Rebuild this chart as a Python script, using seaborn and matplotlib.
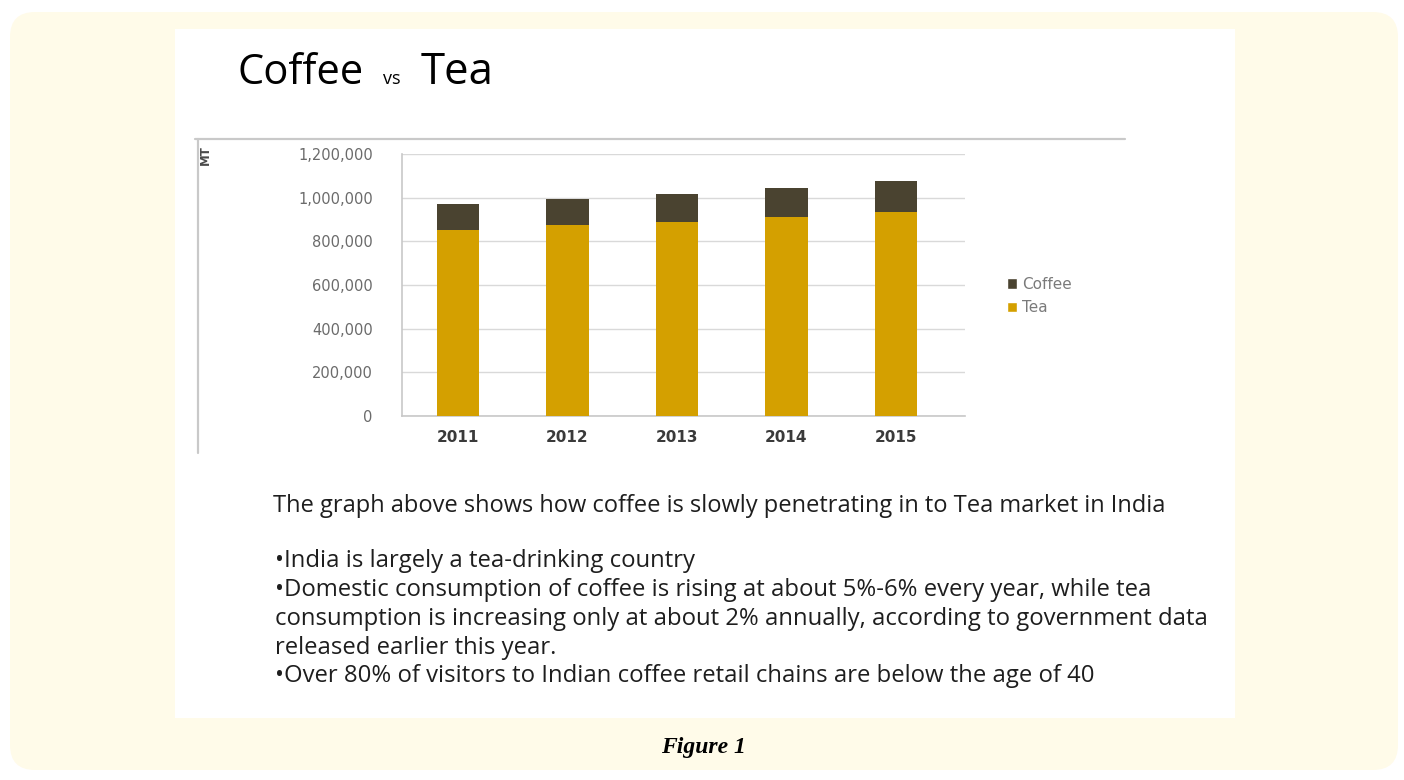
import matplotlib
matplotlib.use("Agg")
import matplotlib.pyplot as plt
from matplotlib.patches import FancyBboxPatch, Rectangle, Patch
from matplotlib.lines import Line2D
import seaborn as sns
import pandas as pd

# Annual consumption in India (metric tonnes)
years = ["2011", "2012", "2013", "2014", "2015"]
tea = [854000, 874000, 889000, 912000, 934000]
coffee = [115000, 121000, 126000, 131000, 141000]
ytick_values = [0, 200000, 400000, 600000, 800000, 1000000, 1200000]

headline = "The graph above shows how coffee is slowly penetrating in to Tea market in India"
bullets = [
    "\u2022India is largely a tea-drinking country",
    "\u2022Domestic consumption of coffee is rising at about 5%-6% every year, while tea",
    "consumption is increasing only at about 2% annually, according to government data",
    "released earlier this year.",
    "\u2022Over 80% of visitors to Indian coffee retail chains are below the age of 40",
]
caption = "Figure 1"

TEA_COLOR = "#D4A000"
COFFEE_COLOR = "#4A4330"
CREAM = "#FFFBE9"
GRID = "#D9D9D9"
TICK_TEXT = "#6B6B6B"

sns.set_theme(style="white")
plt.rcParams["font.family"] = ["DejaVu Sans"]

W, H = 1404, 780
fig = plt.figure(figsize=(W / 100, H / 100), dpi=100)
fig.patch.set_facecolor("white")
inch = fig.dpi_scale_trans


def fx(px):
    return px / W


def fy(py):
    return 1 - py / H


# cream card with rounded corners, white slide on top
fig.add_artist(FancyBboxPatch((0.10 + 0.25, 0.10 + 0.25), 13.88 - 0.5, 7.58 - 0.5,
                              boxstyle="round,pad=0.25", transform=inch,
                              facecolor=CREAM, edgecolor="none", zorder=-3))
fig.add_artist(Rectangle((1.75, 0.62), 10.60, 6.89, transform=inch,
                         facecolor="white", edgecolor="none", zorder=-2))

# frame lines around the embedded chart
fig.add_artist(Line2D([1.95, 11.25], [6.41, 6.41], transform=inch,
                      color="#C9C9C9", lw=1.6, zorder=-1))
fig.add_artist(Line2D([1.98, 1.98], [6.41, 3.27], transform=inch,
                      color="#C9C9C9", lw=1.6, zorder=-1))

# chart axes
ax = fig.add_axes([fx(402), fy(416), fx(965) - fx(402), fy(154) - fy(416)])
ax.set_zorder(5)
ax.set_facecolor("none")

df = pd.DataFrame({"year": years, "tea": tea, "coffee": coffee})
df["total"] = df["tea"] + df["coffee"]

sns.barplot(data=df, x="year", y="total", color=COFFEE_COLOR, width=0.39,
            saturation=1, linewidth=0, ax=ax, zorder=2)
sns.barplot(data=df, x="year", y="tea", color=TEA_COLOR, width=0.39,
            saturation=1, linewidth=0, ax=ax, zorder=3)

ax.set_ylim(0, 1200000)
ax.set_xlim(-0.51, 4.63)
ax.set_yticks(ytick_values)
ax.set_yticklabels([f"{v:,}" for v in ytick_values], color=TICK_TEXT, fontsize=10.5)
ax.set_xticks(range(len(years)))
ax.set_xticklabels(years, color="#3A3A3A", fontsize=11, fontweight="bold")
ax.set_xlabel("")
ax.set_ylabel("")
ax.yaxis.grid(True, color=GRID, lw=1)
ax.set_axisbelow(True)
for side in ["top", "right"]:
    ax.spines[side].set_visible(False)
for side in ["left", "bottom"]:
    ax.spines[side].set_color("#C8C8C8")
    ax.spines[side].set_linewidth(1.2)
ax.tick_params(axis="y", length=5, color="#C8C8C8", pad=16, width=1)
ax.tick_params(axis="x", length=0, pad=10)
ax.set_xticks([0.5, 1.5, 2.5, 3.5], minor=True)
ax.tick_params(axis="x", which="minor", length=4, color="#C8C8C8", width=1)

ax.text(-0.349, 1.035, "MT", transform=ax.transAxes, rotation=90,
        ha="center", va="top", fontsize=8.5, fontweight="bold", color="#4A4A4A")

handles = [Patch(facecolor=COFFEE_COLOR, label="Coffee"),
           Patch(facecolor=TEA_COLOR, label="Tea")]
leg = fig.legend(handles=handles, loc="center left",
                 bbox_to_anchor=(fx(993), fy(296)), frameon=False,
                 fontsize=11, handlelength=0.7, handleheight=0.7,
                 handletextpad=0.3, labelspacing=0.55)
for t in leg.get_texts():
    t.set_color("#7A7A7A")

# slide title
title_font = ["Open Sans", "DejaVu Sans"]
fig.text(fx(238), fy(84), "Coffee", fontsize=30, family=title_font,
         color="black", va="baseline", ha="left")
fig.text(fx(383), fy(84), "vs", fontsize=13, family=title_font,
         color="black", va="baseline", ha="left")
fig.text(fx(421), fy(84), "Tea", fontsize=31.5, family=title_font,
         color="black", va="baseline", ha="left")

# slide body text
body_font = ["Open Sans", "DejaVu Sans"]
fig.text(fx(273), fy(512), headline, fontsize=17, family=body_font,
         color="#1E1E1E", va="baseline", ha="left")
baselines = [567, 596, 625, 654, 682]
for line, b in zip(bullets, baselines):
    fig.text(fx(275), fy(b), line, fontsize=17.2, family=body_font,
             color="#1E1E1E", va="baseline", ha="left")

fig.text(fx(703), fy(753), caption, fontsize=17, family=["Liberation Serif"],
         fontweight="bold", fontstyle="italic", color="black",
         ha="center", va="baseline")

fig.savefig("out.png", dpi=100)
